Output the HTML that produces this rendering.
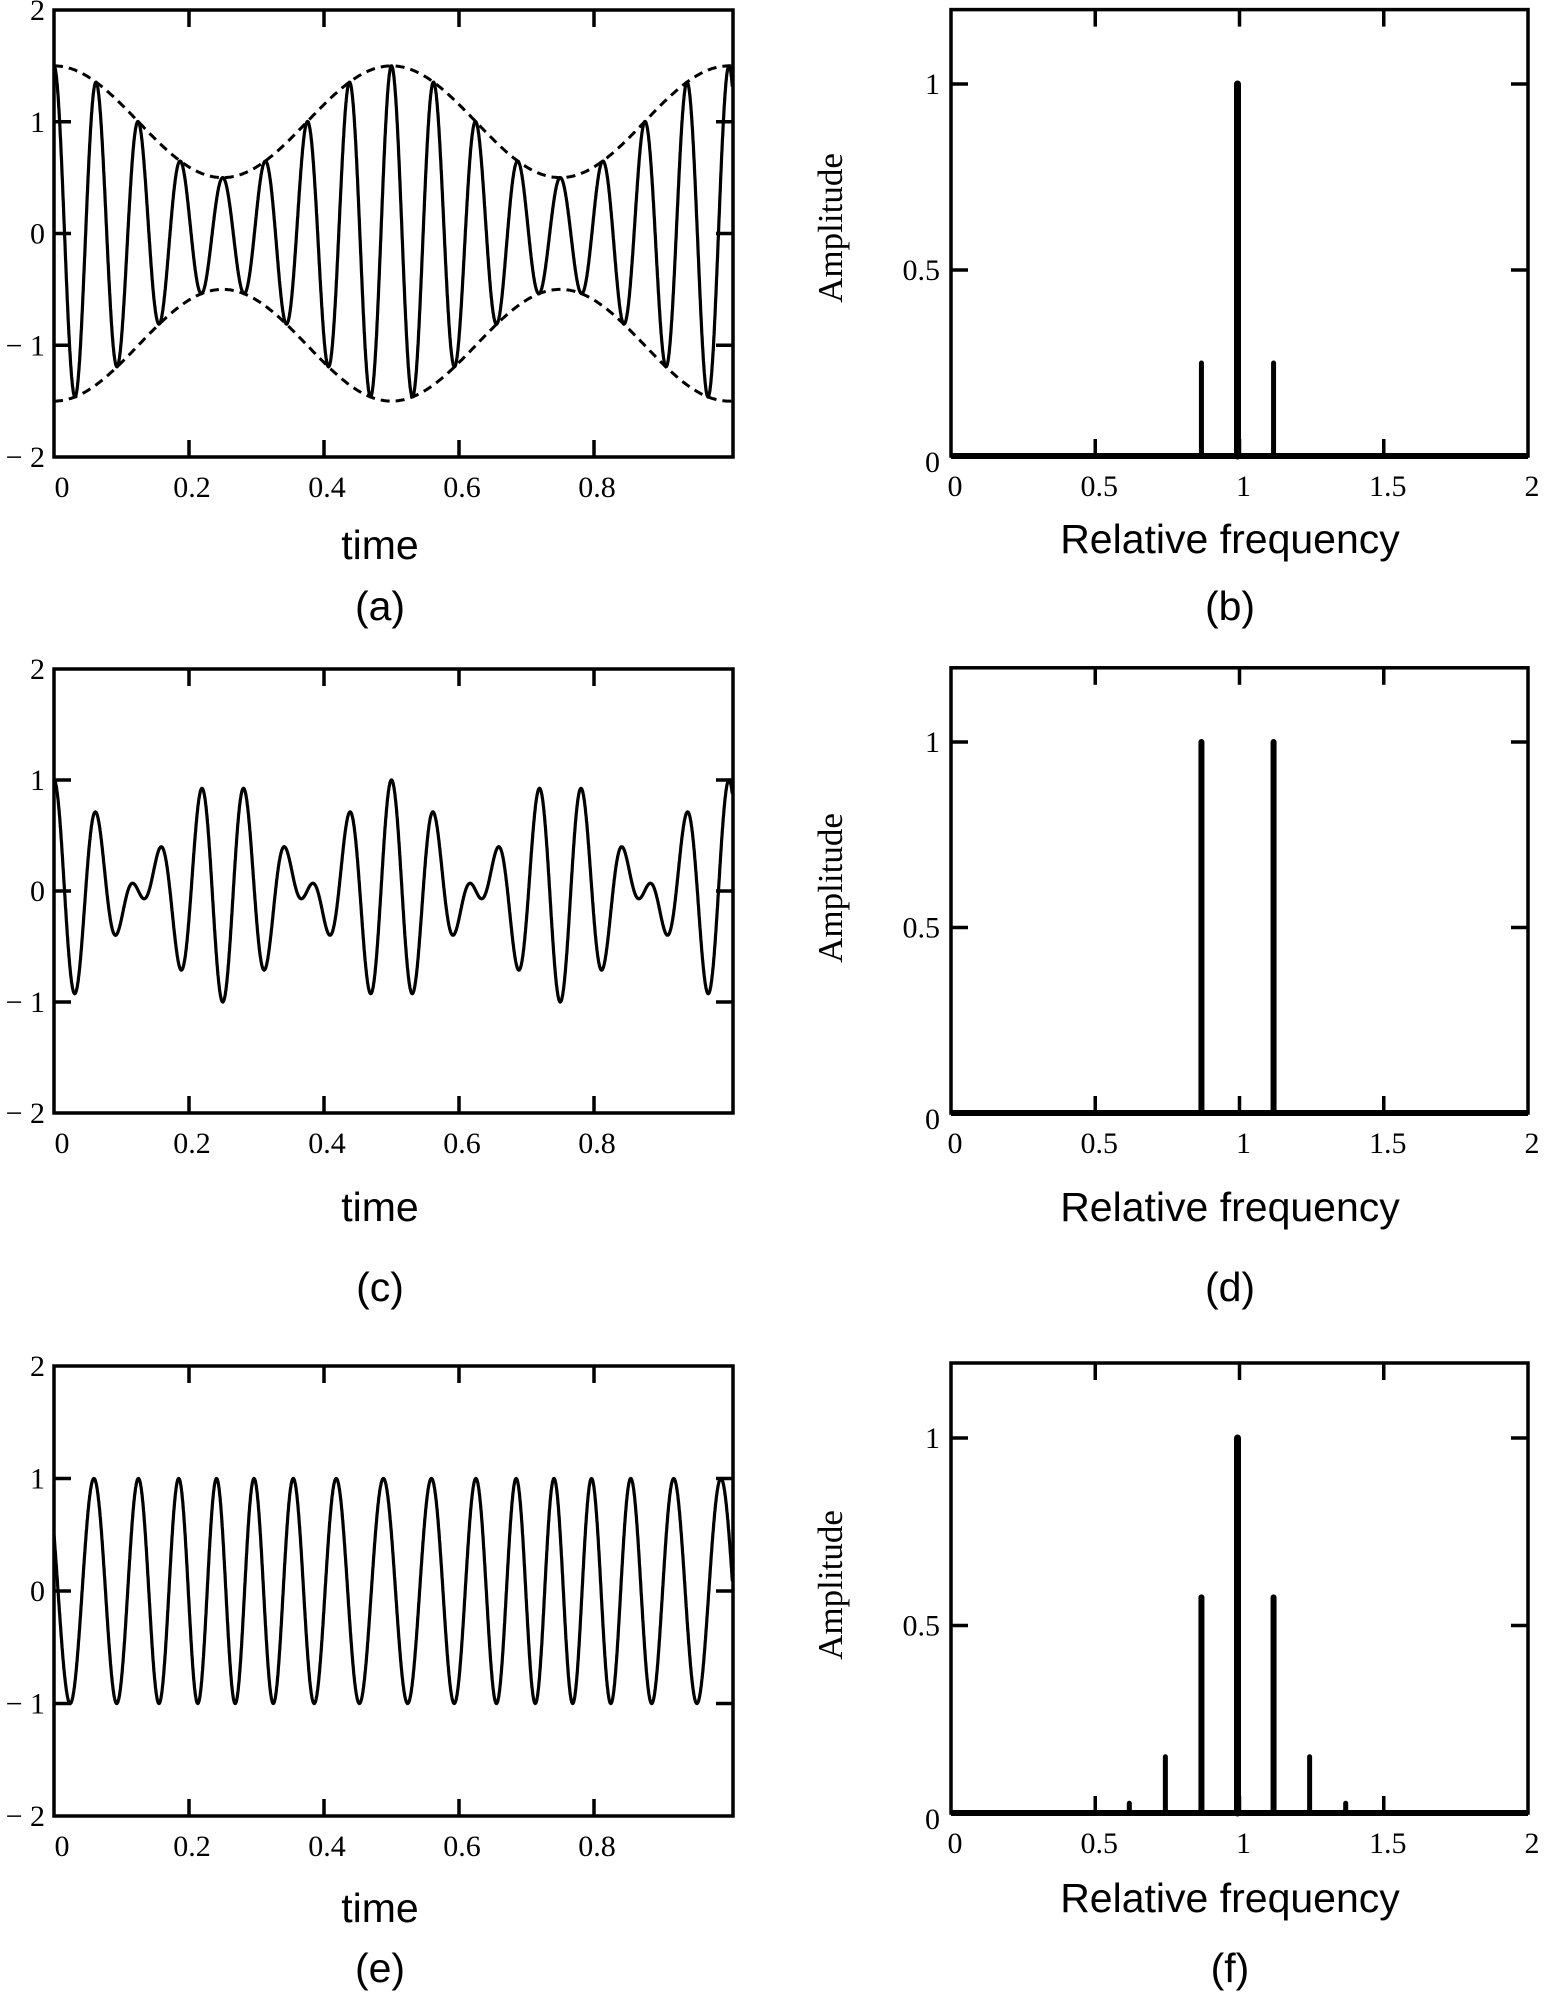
<!DOCTYPE html>
<html><head><meta charset="utf-8">
<style>
html,body{margin:0;padding:0;background:#fff;}
svg{display:block;}
.tk{font-family:"Liberation Serif",serif;font-size:30px;fill:#000;}
.lb{font-family:"Liberation Sans",sans-serif;font-size:41px;fill:#000;}
.am{font-family:"Liberation Serif",serif;font-size:35px;fill:#000;}
</style></head>
<body>
<svg id="s" width="1547" height="1994" viewBox="0 0 1547 1994" xmlns="http://www.w3.org/2000/svg"></svg>
<script>
const S=document.getElementById('s');
let h='';
const L={x0:54,x1:733,sx:675};
const rowsL=[{t:10,b:457},{t:669,b:1113},{t:1366,b:1816}];
const R={x0:951,x1:1528};
const rowsR=[{z:456,u:372},{z:1113,u:371},{z:1813,u:375}];
const lblY=[[545,606],[1207,1287],[1908,1968]];
const lblYR=[[539,606],[1207,1287],[1898,1968]];
const ampY=[228,888,1585];
const tags=[['(a)','(b)'],['(c)','(d)'],['(e)','(f)']];
function fn(k,t){
  if(k==0) return (1+0.5*Math.cos(4*Math.PI*t))*Math.cos(32*Math.PI*t);
  if(k==1) return Math.cos(32*Math.PI*t)*Math.cos(4*Math.PI*t);
  return Math.cos(32*Math.PI*t+Math.PI/3-1.05*Math.sin(4*Math.PI*t));
}
for(let r=0;r<3;r++){
  const {t,b}=rowsL[r];const sy=(b-t)/4;const Y=v=>b-(v+2)*sy;const X=v=>L.x0+v*L.sx;
  h+=`<rect x="${L.x0}" y="${t}" width="${L.x1-L.x0}" height="${b-t}" fill="none" stroke="#000" stroke-width="3.5"/>`;
  for(let v=-1;v<=1;v++){h+=`<line x1="${L.x0}" y1="${Y(v)}" x2="${L.x0+17}" y2="${Y(v)}" stroke="#000" stroke-width="3.5"/><line x1="${L.x1}" y1="${Y(v)}" x2="${L.x1-17}" y2="${Y(v)}" stroke="#000" stroke-width="3.5"/>`;}
  for(let v=0.2;v<0.95;v+=0.2){h+=`<line x1="${X(v)}" y1="${t}" x2="${X(v)}" y2="${t+17}" stroke="#000" stroke-width="3.5"/><line x1="${X(v)}" y1="${b}" x2="${X(v)}" y2="${b-17}" stroke="#000" stroke-width="3.5"/>`;}
  const yl=['− 2','− 1','0','1','2'];
  for(let i=0;i<5;i++){h+=`<text class="tk" x="45" y="${Y(i-2)+10}" text-anchor="end">${yl[i]}</text>`;}
  ['0','0.2','0.4','0.6','0.8'].forEach((s,i)=>{h+=`<text class="tk" x="${X(i*0.2)+(i?3:8)}" y="${b+40}" text-anchor="middle">${s}</text>`;});
  let p='';for(let i=0;i<=3000;i++){const tt=i/3000*1.005;p+=(i?'L':'M')+X(tt).toFixed(1)+' '+Y(fn(r,tt)).toFixed(1);}
  h+=`<path d="${p}" fill="none" stroke="#000" stroke-width="3.2"/>`;
  if(r==0){for(const sg of [1,-1]){let q='';for(let i=0;i<=600;i++){const tt=i/600*1.005;q+=(i?'L':'M')+X(tt).toFixed(1)+' '+Y(sg*(1+0.5*Math.cos(4*Math.PI*tt))).toFixed(1);}h+=`<path d="${q}" fill="none" stroke="#000" stroke-width="3" stroke-dasharray="9,6"/>`;}}
  h+=`<text class="lb" x="380" y="${lblY[r][0]+14}" text-anchor="middle">time</text>`;
  h+=`<text class="lb" x="380" y="${lblY[r][1]+14}" text-anchor="middle">${tags[r][0]}</text>`;
  const {z,u}=rowsR[r];const RY=v=>z-v*u;const RX=v=>R.x0+v*(R.x1-R.x0)/2;const top=RY(1.2);
  h+=`<rect x="${R.x0}" y="${top}" width="${R.x1-R.x0}" height="${z-top}" fill="none" stroke="#000" stroke-width="3.5"/>`;
  for(const v of [0.5,1]){h+=`<line x1="${R.x0}" y1="${RY(v)}" x2="${R.x0+17}" y2="${RY(v)}" stroke="#000" stroke-width="3.5"/><line x1="${R.x1}" y1="${RY(v)}" x2="${R.x1-17}" y2="${RY(v)}" stroke="#000" stroke-width="3.5"/>`;}
  for(const v of [0.5,1,1.5]){h+=`<line x1="${RX(v)}" y1="${top}" x2="${RX(v)}" y2="${top+17}" stroke="#000" stroke-width="3.5"/><line x1="${RX(v)}" y1="${z}" x2="${RX(v)}" y2="${z-17}" stroke="#000" stroke-width="3.5"/>`;}
  [['0',0],['0.5',0.5],['1',1]].forEach(([s,v])=>{h+=`<text class="tk" x="940" y="${RY(v)+10+(v==0?6:0)}" text-anchor="end">${s}</text>`;});
  [['0',0],['0.5',0.5],['1',1],['1.5',1.5],['2',2]].forEach(([s,v])=>{h+=`<text class="tk" x="${RX(v)+4}" y="${z+40}" text-anchor="middle">${s}</text>`;});
  h+=`<line x1="${R.x0}" y1="${z}" x2="${R.x1}" y2="${z}" stroke="#000" stroke-width="6"/>`;
  let bars;
  if(r==0) bars=[[0.875,0.25,5],[1,1,7],[1.125,0.25,5]];
  else if(r==1) bars=[[0.875,1,6],[1.125,1,6]];
  else bars=[[0.625,0.026,5],[0.75,0.15,5],[0.875,0.575,6],[1,1,7],[1.125,0.575,6],[1.25,0.15,5],[1.375,0.026,5]];
  bars.forEach(([f,a,w])=>{const xx=RX(f)-2;h+=`<line x1="${xx}" y1="${z}" x2="${xx}" y2="${RY(a)}" stroke="#000" stroke-width="${w}" stroke-linecap="round"/>`;});
  h+=`<text class="am" transform="translate(842,${ampY[r]}) rotate(-90)" text-anchor="middle">Amplitude</text>`;
  h+=`<text class="lb" x="1230" y="${lblYR[r][0]+14}" text-anchor="middle">Relative frequency</text>`;
  h+=`<text class="lb" x="1230" y="${lblYR[r][1]+14}" text-anchor="middle">${tags[r][1]}</text>`;
}
S.innerHTML=h;
</script>
</body></html>
